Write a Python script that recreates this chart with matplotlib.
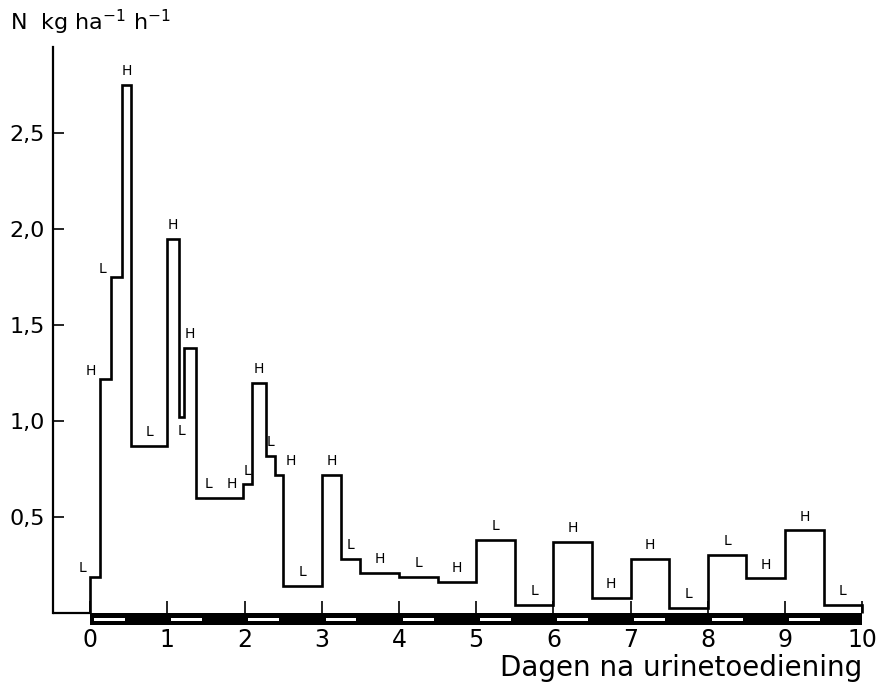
import matplotlib
matplotlib.use('Agg')
import matplotlib.pyplot as plt
import numpy as np
from matplotlib.patches import Rectangle

# ---- data ----
edges = [0.0, 0.13, 0.27, 0.41, 0.53, 1.0, 1.15, 1.22, 1.37, 1.7, 1.98, 2.1,
         2.28, 2.4, 2.5, 3.0, 3.25, 3.5, 4.0, 4.5, 5.0, 5.5, 6.0, 6.5, 7.0,
         7.5, 8.0, 8.5, 9.0, 9.5, 10.0]
values = [0.19, 1.22, 1.75, 2.75, 0.87, 1.95, 1.02, 1.38, 0.60, 0.60,
          0.67, 1.20, 0.82, 0.72, 0.14, 0.72, 0.28, 0.21, 0.19, 0.16,
          0.38, 0.04, 0.37, 0.08, 0.28, 0.025, 0.30, 0.18, 0.43, 0.04]
step_labels = ['L', 'H', 'L', 'H', 'L', 'H', 'L', 'H', 'L', 'H',
               'L', 'H', 'L', 'H', 'L', 'H', 'L', 'H', 'L', 'H',
               'L', 'L', 'H', 'H', 'H', 'L', 'L', 'H', 'H', 'L']
light_starts = [0, 1, 2, 3, 4, 5, 6, 7, 8, 9]
light_length = 0.5
x_ticks = [0, 1, 2, 3, 4, 5, 6, 7, 8, 9, 10]
y_ticks = [0.5, 1.0, 1.5, 2.0, 2.5]
y_ticklabels = ['0,5', '1,0', '1,5', '2,0', '2,5']
x_label = 'Dagen na urinetoediening'
y_label = r'N  kg ha$^{-1}$ h$^{-1}$'

# label placement (style only)
placement = ['left', 'left', 'left', 'top', 'top', 'top', 'below', 'top', 'top', 'top',
             'top', 'top', 'top', 'right', 'top', 'top', 'top', 'top', 'top', 'top',
             'top', 'top', 'top', 'top', 'top', 'top', 'top', 'top', 'top', 'top']

plt.rcParams['font.family'] = ['DejaVu Sans']
plt.rcParams['mathtext.fontset'] = 'dejavusans'

fig = plt.figure(figsize=(8.76, 6.90), dpi=100)
ax = fig.add_axes([53 / 876, 63 / 690, 817 / 876, 580 / 690])
ax.set_xlim(-0.48, 10.1)
ax.set_ylim(-0.073, 2.95)

lw = 1.9
ax.stairs(values, edges, baseline=0, color='black', linewidth=lw, zorder=3)

# baseline left of day 0
ax.plot([-0.48, 0], [0, 0], color='black', linewidth=1.6, zorder=2,
        solid_capstyle='butt')

# day/night bar
bar_h = 0.062
ax.add_patch(Rectangle((0, -bar_h), 10, bar_h, facecolor='black',
                       edgecolor='none', zorder=2, clip_on=False))
for s in light_starts:
    ax.add_patch(Rectangle((s + 0.05, -bar_h * 0.68), light_length - 0.1,
                           bar_h * 0.28, facecolor='white', edgecolor='none',
                           zorder=2.5, clip_on=False))

# L / H annotations
fs_lab = 10
for i, (lab, pl) in enumerate(zip(step_labels, placement)):
    x0, x1 = edges[i], edges[i + 1]
    v = values[i]
    if pl == 'top':
        ax.annotate(lab, (0.5 * (x0 + x1), v), xytext=(0, 5),
                    textcoords='offset points', ha='center', va='bottom',
                    fontsize=fs_lab)
    elif pl == 'left':
        ax.annotate(lab, (x0, v), xytext=(-3, 1), textcoords='offset points',
                    ha='right', va='bottom', fontsize=fs_lab)
    elif pl == 'below':
        ax.annotate(lab, (0.5 * (x0 + x1), v), xytext=(0, -5),
                    textcoords='offset points', ha='center', va='top',
                    fontsize=fs_lab)
    elif pl == 'right':
        ax.annotate(lab, (x1, v), xytext=(2, 5), textcoords='offset points',
                    ha='left', va='bottom', fontsize=fs_lab)

# spines
for s in ['top', 'right']:
    ax.spines[s].set_visible(False)
ax.spines['bottom'].set_position(('data', 0))
ax.spines['bottom'].set_visible(False)
ax.spines['left'].set_bounds(0, 2.95)
ax.spines['left'].set_linewidth(1.6)

ax.set_xticks(x_ticks)
ax.set_xticklabels([str(t) for t in x_ticks])
ax.set_yticks(y_ticks)
ax.set_yticklabels(y_ticklabels)
ax.tick_params(axis='x', direction='in', length=9, width=1.2, pad=11,
               labelsize=17)
ax.tick_params(axis='y', direction='in', length=8, width=1.2, pad=6,
               labelsize=16)

fig.text(862 / 876, 8 / 690, x_label, ha='right', va='bottom', fontsize=20)
fig.text(10 / 876, 1 - 30 / 690, y_label, ha='left', va='baseline', fontsize=16)

fig.savefig('out.png', dpi=100, facecolor='white')
